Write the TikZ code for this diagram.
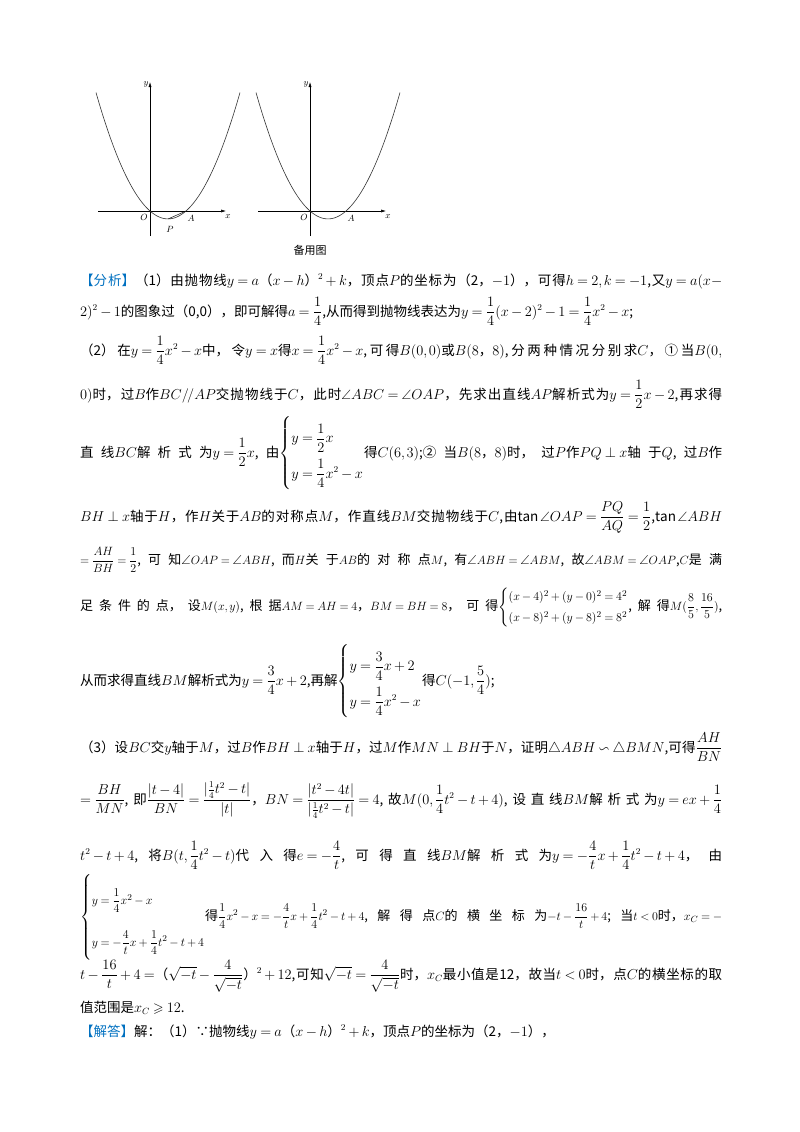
\documentclass[tikz,border=0pt]{standalone}
\usepackage{amsmath,amssymb}
\usepackage{fontspec}
\setmainfont{Noto Sans CJK SC}
\XeTeXlinebreaklocale "zh"
\XeTeXlinebreakskip=0pt plus 3pt minus 1pt
\usetikzlibrary{arrows.meta}
\definecolor{hdblue}{RGB}{0,112,192}
\thickmuskip=4mu minus 2mu
\medmuskip=3mu minus 1.5mu
\thinmuskip=2mu
\newcommand\Jline[1]{\parbox[t]{642pt}{\parfillskip=0pt\relax\noindent #1}}
\newcommand\Sys[2][2.2]{\renewcommand{\arraystretch}{#1}\left\{\begin{array}{@{}l@{}}#2\end{array}\right.}
\begin{document}
\begin{tikzpicture}[x=1pt,y=-1pt,
  ln/.style={anchor=base west,inner sep=0pt,font=\fontsize{13.5}{16}\selectfont},
  lns/.style={ln,font=\fontsize{13}{16}\selectfont},
  ax/.style={-{Latex[length=5pt,width=3pt]},line width=0.5pt},
  lab/.style={font=\fontsize{9}{10}\selectfont\itshape,inner sep=0pt}]
\useasboundingbox (0,0) rectangle (800,1132);
% graphs
\foreach \ox/\nm in {150/L,310/R}{
  \draw[ax] (\ox-52,211) -- (\ox+76,211);
  \draw[ax] (\ox,236) -- (\ox,82);
  \draw[line width=0.6pt,gray!40!black] plot[domain=-6:10,samples=100] ({\ox+9*\x},{211-7.9*(\x*\x/4-\x)});
  \node[lab] (x\nm) at (\ox+78,217) {$x$};
  \node[lab] (y\nm) at (\ox-4,84) {$y$};
  \node[lab] (O\nm) at (\ox-6,217) {$O$};
  \node[lab] (A\nm) at (\ox+41,218) {$A$};
}
\node[lab] (PL) at (170,229) {$P$};
\draw[line width=0.5pt] (168,219) -- (186,211);
\node[font=\fontsize{11}{12}\selectfont,inner sep=0pt] (bei) at (310,250) {备用图};
% text
\node[ln] (l1) at (80,285) {\Jline{{\color{hdblue}【分析】}（1）由抛物线$y=a$（$x-h$）$^2+k$，顶点$P$的坐标为（2，$-1$），可得$h=2,k=-1$,又$y=a(x-$}};
\node[ln] (l2) at (80,316) {$2)^2-1$的图象过（0,0），即可解得$a=\dfrac14$,从而得到抛物线表达为$y=\dfrac14(x-2)^2-1=\dfrac14x^2-x$;};
\node[ln] (l3) at (80,355) {\Jline{（2）在$y=\dfrac14x^2-x$中，令$y=x$得$x=\dfrac14x^2-x$,可得$B(0,0)$或$B(8，8)$,分两种情况分别求$C$，①当$B(0,$}};
\node[ln] (l4) at (80,399) {\Jline{$0)$时，过$B$作$BC/\!/AP$交抛物线于$C$，此时$\angle ABC=\angle OAP$，先求出直线$AP$解析式为$y=\dfrac12x-2$,再求得}};
\node[ln] (l5) at (80,457) {\Jline{直线$BC$解析式为$y=\dfrac12x$,由$\Sys{y=\dfrac12x\\ y=\dfrac14x^2-x}$得$C(6,3)$;②当$B(8，8)$时，过$P$作$PQ\perp x$轴于$Q$,过$B$作}};
\node[ln] (l6) at (80,521) {\Jline{$BH\perp x$轴于$H$，作$H$关于$AB$的对称点$M$，作直线$BM$交抛物线于$C$,由$\tan\angle OAP=\dfrac{PQ}{AQ}=\dfrac12$,$\tan\angle ABH$}};
\node[lns] (l7) at (80,564) {\Jline{$=\dfrac{AH}{BH}=\dfrac12$,可知$\angle OAP=\angle ABH$,而$H$关于$AB$的对称点$M$,有$\angle ABH=\angle ABM$,故$\angle ABM=\angle OAP$,$C$是满}};
\node[lns] (l8) at (80,610) {\Jline{足条件的点，设$M(x,y)$,根据$AM=AH=4$，$BM=BH=8$，可得$\Sys[1.3]{(x-4)^2+(y-0)^2=4^2\\(x-8)^2+(y-8)^2=8^2}$,解得$M(\dfrac85,\dfrac{16}5)$,}};
\node[ln] (l9) at (80,685) {从而求得直线$BM$解析式为$y=\dfrac34x+2$,再解$\Sys{y=\dfrac34x+2\\ y=\dfrac14x^2-x}$得$C(-1,\dfrac54)$;};
\node[ln] (l10) at (80,752) {\Jline{（3）设$BC$交$y$轴于$M$，过$B$作$BH\perp x$轴于$H$，过$M$作$MN\perp BH$于$N$，证明$\triangle ABH\backsim\triangle BMN$,可得$\dfrac{AH}{BN}$}};
\node[ln] (l11) at (80,804) {\Jline{$=\dfrac{BH}{MN}$,即$\dfrac{|t-4|}{BN}=\dfrac{|\frac14t^2-t|}{|t|}$，$BN=\dfrac{|t^2-4t|}{|\frac14t^2-t|}=4$,故$M(0,\dfrac14t^2-t+4)$,设直线$BM$解析式为$y=ex+\dfrac14$}};
\node[ln] (l12) at (80,860) {\Jline{$t^2-t+4$,将$B(t,\dfrac14t^2-t)$代入得$e=-\dfrac4t$,可得直线$BM$解析式为$y=-\dfrac4tx+\dfrac14t^2-t+4$，由}};
\node[lns] (l13) at (80,920) {\Jline{$\Sys[2.6]{y=\dfrac14x^2-x\\ y=-\dfrac4tx+\dfrac14t^2-t+4}$得$\dfrac14x^2-x=-\dfrac4tx+\dfrac14t^2-t+4$,解得点$C$的横坐标为$-t-\dfrac{16}t+4$;当$t<0$时，$x_C=-$}};
\node[ln] (l14) at (80,979) {\Jline{$t-\dfrac{16}t+4=$（$\sqrt{-t}-\dfrac4{\sqrt{-t}}$）$^2+12$,可知$\sqrt{-t}=\dfrac4{\sqrt{-t}}$时，$x_C$最小值是12，故当$t<0$时，点$C$的横坐标的取}};
\node[ln] (l15) at (80,1012) {值范围是$x_C\geqslant12$.};
\node[ln] (l16) at (80,1036) {{\color{hdblue}【解答】}解：（1）∵抛物线$y=a$（$x-h$）$^2+k$，顶点$P$的坐标为（2，$-1$），};
\end{tikzpicture}
\end{document}
